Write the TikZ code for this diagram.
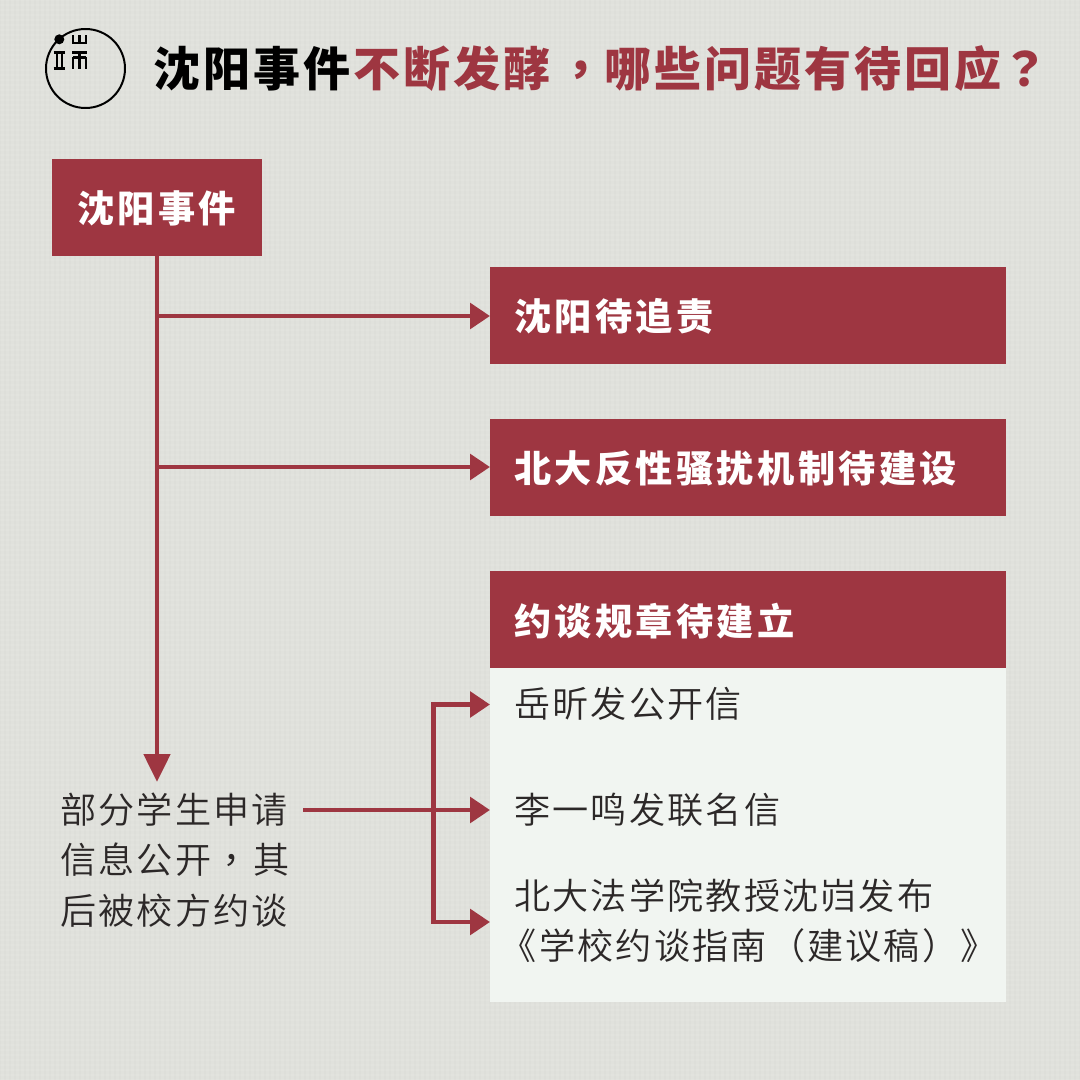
\documentclass[tikz,border=0pt]{standalone}
\usepackage{fontspec}
\setmainfont{Noto Sans CJK SC DemiLight}[LetterSpace=6]
\newfontfamily\cjkb{Noto Sans CJK SC Black}[LetterSpace=9]
\newfontfamily\cjkt{Noto Sans CJK SC Black}[LetterSpace=6.4]
\newfontfamily\pnct{Noto Sans CJK TC}[LetterSpace=6]
\newfontfamily\pnctb{Noto Sans CJK TC Black}[LetterSpace=6.4]
\usetikzlibrary{arrows.meta}
\definecolor{bgc}{HTML}{E0E1DC}
\definecolor{red1}{HTML}{9E3641}
\definecolor{pale}{HTML}{F1F5F1}
\definecolor{ink}{HTML}{2C2828}
\newcommand\hfnt{\cjkb\fontsize{28pt}{30pt}\selectfont}
\newcommand\tfnt{\fontsize{35.4pt}{40pt}\selectfont}
\tikzset{
 x=0.02646cm,y=-0.02646cm,
 hbox/.style={fill=red1,minimum height=97*0.02646cm,anchor=north west,inner sep=0pt},
 hlabel/.style={anchor=west,inner sep=0pt,text=white,font=\hfnt},
 ttl/.style={anchor=west,inner sep=0pt,font=\cjkt\tfnt},
 body/.style={anchor=west,inner sep=0pt,text=ink,font=\fontsize{27.2pt}{38pt}\selectfont,align=left},
 ln/.style={draw=red1,line width=3.7pt},
 arr/.style={ln,-{Triangle[length=15pt,width=19pt]}},
 arrb/.style={ln,-{Triangle[length=21pt,width=19.5pt]}},
 logob/.style={black,line width=1.8pt},
}
\begin{document}
\begin{tikzpicture}
\useasboundingbox (0,0) rectangle (1080,1080);
\fill[bgc] (0,0) rectangle (1080,1080);
% woven paper texture
\foreach \i in {0,5,...,1080} {
  \draw[white,opacity=.07,line width=1.4pt] (0,\i) -- (1080,\i);
  \draw[black,opacity=.012,line width=1.4pt] (\i,0) -- (\i,1080);
}
% logo
\node[circle,draw=black,line width=1.5pt,minimum size=79*0.02646cm,inner sep=0pt] (logo) at (85.5,68.5) {};
\fill[black] (59.3,39.3) circle (5);
\draw[logob] (73,35.5)--(73,43)--(86,43)--(86,35.5) (79.5,35.5)--(79.5,43);
\draw[logob] (53.5,52.5)--(65,52.5) (53.5,68.5)--(65,68.5) (57,52.5)--(57,68.5) (62,52.5)--(62,68.5);
\draw[logob] (72,52.5)--(86.5,52.5) (73,57.5)--(86,57.5) (73,57.5)--(73,69) (79.5,52.5)--(79.5,69) (86,57.5)--(86,69);
% title
\node[ttl,text=black] (t1) at (153,69) {沈阳事件};
\node[ttl,text=red1] (t2) at (353,69) {不断发酵\kern5pt{\pnctb\tfnt ，}哪些问题有待回应{\pnctb\tfnt ？}};
% boxes
\node[hbox,minimum width=210*0.02646cm] (a) at (52,159) {};
\node[hlabel] (al) at (77,208) {沈阳事件};
\node[hbox,minimum width=516*0.02646cm] (b) at (490,267) {};
\node[hlabel] (bl) at (514,316) {沈阳待追责};
\node[hbox,minimum width=516*0.02646cm] (c) at (490,419) {};
\node[hlabel] (cl) at (514,468) {北大反性骚扰机制待建设};
\fill[pale] (490,668) rectangle (1006,1002);
\node[hbox,minimum width=516*0.02646cm] (d) at (490,571) {};
\node[hlabel] (dl) at (514,621) {约谈规章待建立};
% texts
\node[body] (e) at (60,860) {部分学生申请\\信息公开\kern2pt{\pnct ，}\kern2.5pt其\\后被校方约谈};
\node[body] (f) at (514,704) {岳昕发公开信};
\node[body] (g) at (514,810) {李一鸣发联名信};
\node[body] (h) at (514,921) {北大法学院教授沈岿发布\\\hspace*{-10pt}《学校约谈指南（建议稿）》};
% connectors
\coordinate (s) at (157,256);
\coordinate (e1) at (157,782);
\coordinate (j1) at (157,316);
\coordinate (j2) at (157,467);
\coordinate (m) at (303,810);
\coordinate (t1a) at (490,704.5);
\coordinate (t2a) at (490,810);
\coordinate (t3a) at (490,922);
\draw[arrb] (s) -- (e1);
\draw[arr] (j1) -- (b.west |- j1);
\draw[arr] (j2) -- (c.west |- j2);
\draw[arr] (m) -- (t2a);
\draw[arr] (433.5,704.5) -- (t1a);
\draw[arr] (433.5,922) -- (t3a);
\draw[ln,line cap=rect] (433.5,704.5) -- (433.5,922);
\end{tikzpicture}
\end{document}
